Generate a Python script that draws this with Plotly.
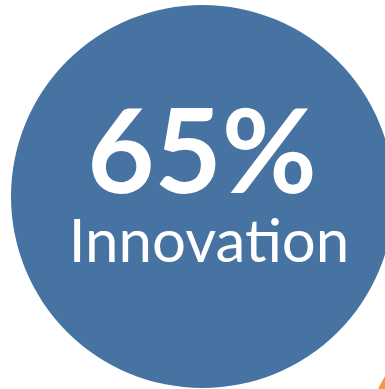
import plotly.graph_objects as go

value = [65]
labels = ["Innovation"]
circle_color = "#4673A1"
accent_color = "#F79646"

W, H = 385, 389
fig = go.Figure()
# main circle
fig.add_shape(type="circle", xref="x", yref="y", x0=11, x1=394, y0=5, y1=388,
              fillcolor=circle_color, line=dict(width=0), layer="below")
# orange accent (part of neighbouring shape)
fig.add_shape(type="path", path="M 378 389 L 385 376 L 385 389 Z",
              fillcolor=accent_color, line=dict(width=0), layer="below")

fig.add_trace(go.Scatter(x=[202], y=[164], mode="text",
                         text=[f"<b>{value[0]}%</b>"],
                         textfont=dict(family="Lato", size=116, color="white"),
                         hoverinfo="skip"))
fig.add_trace(go.Scatter(x=[209], y=[247], mode="text",
                         text=[labels[0]],
                         textfont=dict(family="Lato", size=60, color="white"),
                         hoverinfo="skip"))

fig.update_layout(width=W, height=H, margin=dict(l=0, r=0, t=0, b=0),
                  paper_bgcolor="white", plot_bgcolor="white", showlegend=False,
                  xaxis=dict(range=[0, W], visible=False, fixedrange=True),
                  yaxis=dict(range=[H, 0], visible=False, fixedrange=True))
fig.write_html("out.html", config={"displayModeBar": False})
